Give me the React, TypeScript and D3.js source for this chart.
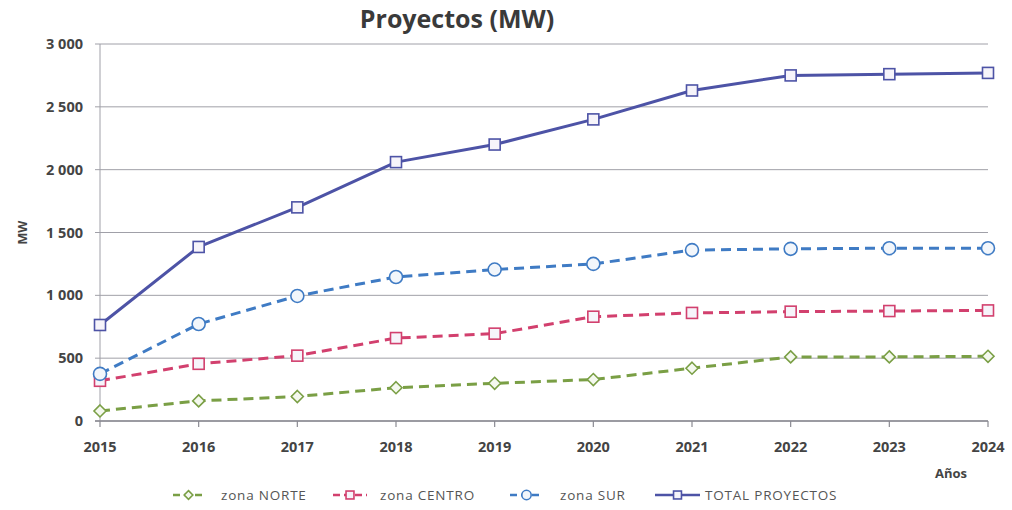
import React from "react";
import * as d3 from "d3";

const years = [2015, 2016, 2017, 2018, 2019, 2020, 2021, 2022, 2023, 2024];
const norte = [80, 160, 195, 265, 300, 330, 420, 510, 510, 515];
const centro = [320, 455, 520, 660, 695, 830, 860, 870, 875, 880];
const sur = [375, 772, 995, 1146, 1205, 1250, 1360, 1370, 1375, 1375];
const total = [764, 1385, 1700, 2060, 2200, 2400, 2630, 2750, 2760, 2770];
const yTicks = [0, 500, 1000, 1500, 2000, 2500, 3000];

const W = 1012;
const H = 510;
const FONT = "'Open Sans', 'Liberation Sans', sans-serif";

type Series = {
  name: string;
  values: number[];
  color: string;
  dashed: boolean;
  marker: "diamond" | "square" | "circle";
};

const series: Series[] = [
  { name: "zona NORTE", values: norte, color: "#7a9f45", dashed: true, marker: "diamond" },
  { name: "zona CENTRO", values: centro, color: "#d2406e", dashed: true, marker: "square" },
  { name: "zona SUR", values: sur, color: "#3f7bc4", dashed: true, marker: "circle" },
  { name: "TOTAL PROYECTOS", values: total, color: "#4d53a6", dashed: false, marker: "square" },
];

// legend entries: start of sample line, its length, and the label start
const legendLine = [173, 333, 510, 655];
const legendLen = [31, 34, 33, 45];
const legendText = [221, 380, 560, 705];

function Marker({
  kind,
  x,
  y,
  color,
  scale = 1,
}: {
  kind: Series["marker"];
  x: number;
  y: number;
  color: string;
  scale?: number;
}) {
  if (kind === "diamond") {
    const r = 6 * scale;
    return (
      <path
        d={`M${x},${y - r}L${x + r},${y}L${x},${y + r}L${x - r},${y}Z`}
        fill="#f4f8ee"
        stroke={color}
        strokeWidth={1.6}
      />
    );
  }
  if (kind === "circle") {
    return <circle cx={x} cy={y} r={6.5 * scale} fill="#f2f6fb" stroke={color} strokeWidth={1.6} />;
  }
  const s = 11 * scale;
  return (
    <rect x={x - s / 2} y={y - s / 2} width={s} height={s} fill="#f6f4fa" stroke={color} strokeWidth={1.6} />
  );
}

export default function App() {
  const x = d3.scaleLinear().domain([2015, 2024]).range([100, 988]);
  const y = d3.scaleLinear().domain([0, 3000]).range([421, 44]);
  const fmt = (v: number) => d3.format(",")(v).replace(/,/g, " ");

  const line = d3
    .line<number>()
    .x((_, i) => x(years[i]))
    .y((v) => y(v));

  return (
    <svg
      width={W}
      height={H}
      style={{ position: "absolute", left: 0, top: 0, background: "#fff" }}
      fontFamily={FONT}
    >
      <rect width={W} height={H} fill="#fff" />
      <text x={457} y={28} textAnchor="middle" fontSize={25} fontWeight="bold" fill="#3a3a3a">
        Proyectos (MW)
      </text>

      {/* horizontal gridlines and y tick labels */}
      {yTicks.map((t) => (
        <g key={t}>
          <line x1={95} x2={988} y1={y(t)} y2={y(t)} stroke="#a0a0a8" strokeWidth={1} />
          <text x={83} y={y(t) + 5} textAnchor="end" fontSize={14.5} fontWeight="bold" fill="#444">
            {fmt(t)}
          </text>
        </g>
      ))}

      {/* axes */}
      <line x1={100} x2={100} y1={y(3000)} y2={y(0)} stroke="#a0a0a8" strokeWidth={1} />
      <line x1={95} x2={988} y1={y(0)} y2={y(0)} stroke="#8a8a92" strokeWidth={1.4} />
      {years.map((yr) => (
        <g key={yr}>
          <line x1={x(yr)} x2={x(yr)} y1={y(0)} y2={y(0) + 6} stroke="#8a8a92" strokeWidth={1.2} />
          <text x={x(yr)} y={452} textAnchor="middle" fontSize={14.5} fontWeight="bold" fill="#444">
            {yr}
          </text>
        </g>
      ))}

      <text x={951} y={478} textAnchor="middle" fontSize={13} fontWeight="bold" fill="#444">
        Años
      </text>
      <text
        transform={`translate(27,${y(1500)}) rotate(-90)`}
        textAnchor="middle"
        fontSize={12.5}
        fontWeight="bold"
        fill="#444"
      >
        MW
      </text>

      {/* series lines */}
      {series.map((s) => (
        <path
          key={s.name}
          d={line(s.values) || ""}
          fill="none"
          stroke={s.color}
          strokeWidth={3}
          strokeDasharray={s.dashed ? "10,6" : undefined}
          strokeLinejoin="round"
        />
      ))}

      {/* series markers */}
      {series.map((s) =>
        s.values.map((v, i) => (
          <Marker key={s.name + i} kind={s.marker} x={x(years[i])} y={y(v)} color={s.color} />
        ))
      )}

      {/* legend */}
      {series.map((s, i) => {
        const lx = legendLine[i];
        const len = legendLen[i];
        return (
          <g key={s.name}>
            <line
              x1={lx}
              x2={lx + len}
              y1={495}
              y2={495}
              stroke={s.color}
              strokeWidth={2.5}
              strokeDasharray={s.dashed ? "7,4" : undefined}
            />
            <Marker kind={s.marker} x={lx + len / 2} y={495} color={s.color} scale={0.72} />
            <text x={legendText[i]} y={500} fontSize={13.5} letterSpacing={0.8} fill="#555">
              {s.name}
            </text>
          </g>
        );
      })}
    </svg>
  );
}
